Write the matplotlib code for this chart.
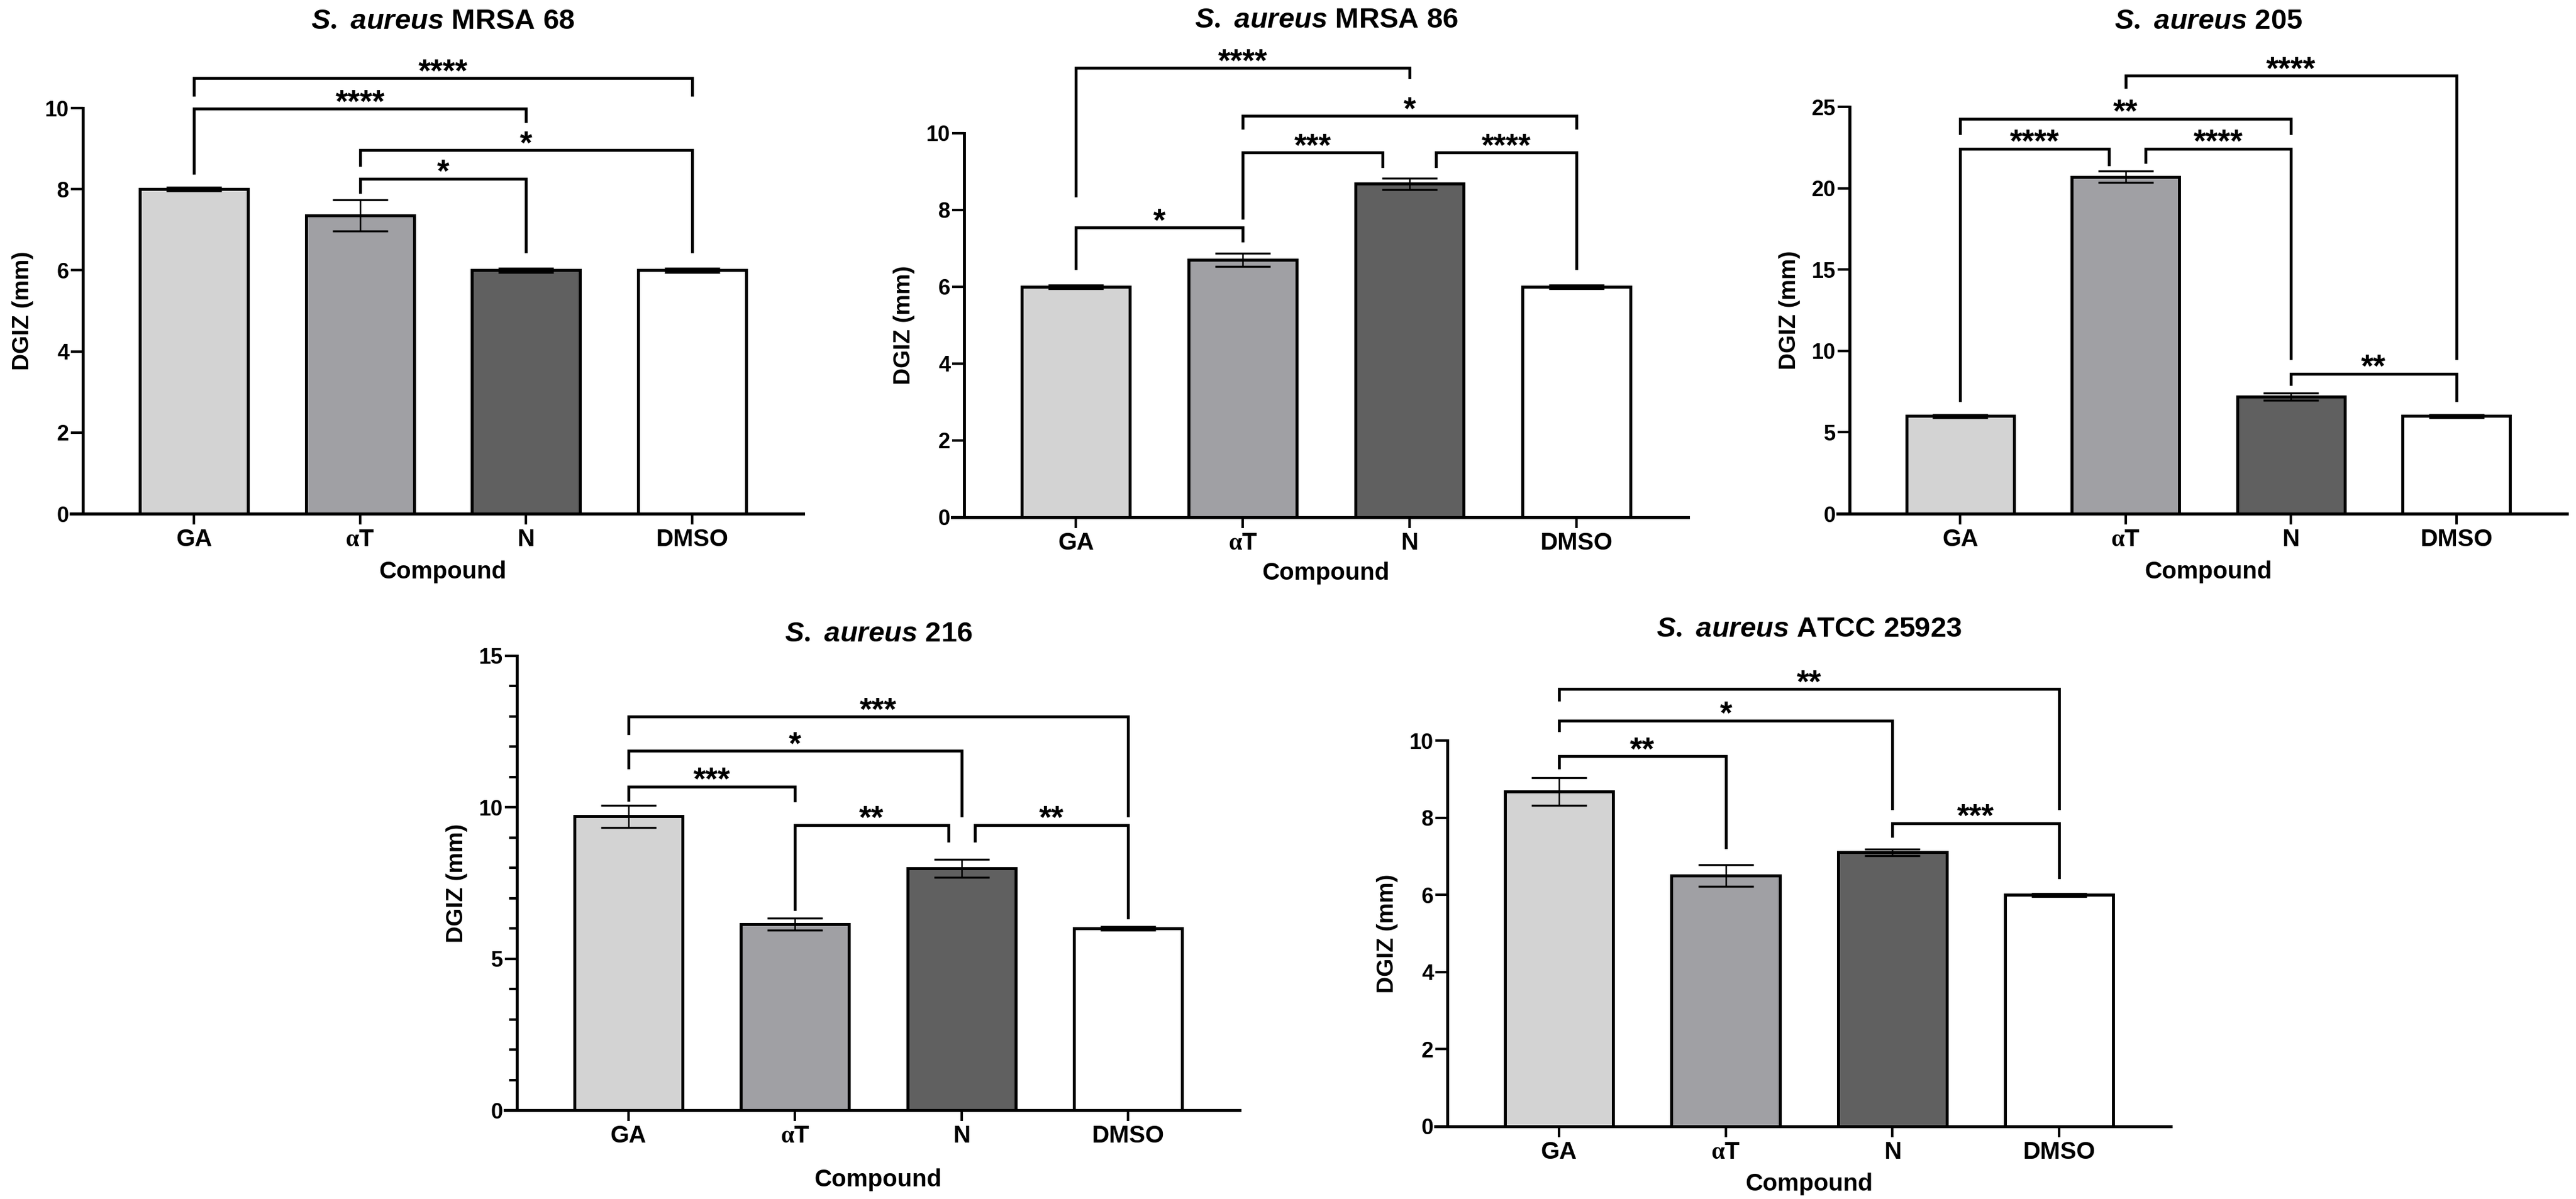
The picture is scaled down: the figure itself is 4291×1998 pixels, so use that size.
import numpy as np
import matplotlib
matplotlib.use('Agg')
import matplotlib.pyplot as plt
from matplotlib.ticker import MultipleLocator

plt.rcParams['font.family'] = ['Liberation Sans', 'DejaVu Sans']
plt.rcParams['font.weight'] = 'bold'
plt.rcParams['mathtext.fontset'] = 'custom'
plt.rcParams['mathtext.it'] = 'Liberation Sans:italic:bold'
plt.rcParams['mathtext.rm'] = 'Liberation Serif'
plt.rcParams['mathtext.bf'] = 'Liberation Sans:bold'

# ---- data ----
compounds = ['GA', r'$\mathrm{\alpha}$T', 'N', 'DMSO']
bar_colors = ['#d3d3d3', '#a0a0a4', '#606060', '#ffffff']

strains = ['MRSA 68', 'MRSA 86', '205', '216', 'ATCC 25923']

mrsa68_mean = [8.0, 7.35, 6.0, 6.0]
mrsa68_err = [0.04, 0.38, 0.05, 0.05]
mrsa86_mean = [6.0, 6.7, 8.68, 6.0]
mrsa86_err = [0.05, 0.17, 0.15, 0.05]
sa205_mean = [6.0, 20.7, 7.2, 6.0]
sa205_err = [0.1, 0.35, 0.22, 0.1]
sa216_mean = [9.7, 6.15, 7.98, 6.0]
sa216_err = [0.37, 0.2, 0.3, 0.06]
atcc_mean = [8.68, 6.5, 7.1, 6.0]
atcc_err = [0.36, 0.28, 0.09, 0.04]

# brackets: (left group, right group, label, bar height, left leg end, right leg end)
mrsa68_sig = [(0, 3, '****', 10.74, 10.33, 10.33),
              (0, 2, '****', 9.98, 8.4, 9.68),
              (1, 3, '*', 8.96, 8.6, 6.46),
              (1, 2, '*', 8.26, 7.93, 6.46)]
mrsa86_sig = [(0, 2, '****', 11.7, 8.38, 11.46),
              (1, 3, '*', 10.45, 10.14, 10.14),
              (1, 1.84, '***', 9.5, 7.8, 9.14),
              (2.16, 3, '****', 9.5, 9.14, 6.48),
              (0, 1, '*', 7.54, 6.48, 7.2)]
sa205_sig = [(1, 3, '****', 26.9, 26.2, 9.55),
             (0, 2, '**', 24.27, 23.37, 23.37),
             (0, 0.9, '****', 22.43, 6.97, 21.46),
             (1.12, 2, '****', 22.43, 21.6, 9.55),
             (2, 3, '**', 8.6, 7.98, 6.97)]
sa216_sig = [(0, 3, '***', 13.0, 12.45, 9.72),
             (0, 2, '*', 11.87, 11.31, 9.72),
             (0, 1, '***', 10.69, 10.25, 10.22),
             (1, 1.92, '**', 9.42, 6.63, 8.89),
             (2.08, 3, '**', 9.42, 8.89, 6.36)]
atcc_sig = [(0, 3, '**', 11.33, 11.06, 8.25),
            (0, 2, '*', 10.52, 10.26, 8.25),
            (0, 1, '**', 9.59, 9.3, 7.23),
            (2, 3, '***', 7.86, 7.52, 6.46)]

W, H = 4291, 1998
fig = plt.figure(figsize=(W / 100, H / 100), dpi=100)


def panel(box, strain, means, errs, ytop, ystep, sig, minor=None, xlab_off=96, title_y=36):
    left, right, base, top = box
    ax = fig.add_axes([left / W, 1 - base / H, (right - left) / W, (base - top) / H])
    x = np.arange(len(compounds))
    ax.bar(x, means, width=0.65, color=bar_colors, edgecolor='k', linewidth=3.6, zorder=2)
    ax.errorbar(x, means, yerr=errs, fmt='none', ecolor='k', elinewidth=1.8,
                capsize=33, capthick=2.4, zorder=3)
    ax.set_xlim(-0.67, 3.67)
    ax.set_ylim(0, ytop)
    ax.yaxis.set_major_locator(MultipleLocator(ystep))
    if minor:
        ax.yaxis.set_minor_locator(MultipleLocator(minor))
    ax.set_xticks(x)
    ax.set_xticklabels(compounds)
    for s in ['top', 'right']:
        ax.spines[s].set_visible(False)
    for s in ['left', 'bottom']:
        ax.spines[s].set_linewidth(3.6)
    hpx = base - top
    wpx = right - left
    # x axis line runs a tick-length past the y axis, as in the original
    ax.spines['bottom'].set_bounds(-0.67 - 20 / wpx * 4.34, 3.67)
    ax.tick_params(axis='x', which='major', length=13, width=3, pad=4, labelsize=29)
    ax.tick_params(axis='y', which='major', length=14.4, width=3, pad=2, labelsize=26)
    ax.tick_params(axis='y', which='minor', length=9.6, width=3)
    for t in ax.get_xticklabels() + ax.get_yticklabels():
        t.set_fontweight('bold')

    ax.set_xlabel('Compound', fontsize=29, fontweight='bold')
    ax.xaxis.set_label_coords(0.5, -xlab_off / hpx)
    ax.xaxis.label.set_va('center')
    ax.set_ylabel('DGIZ (mm)', fontsize=28, fontweight='bold')
    ax.yaxis.set_label_coords(-100 / wpx, 0.5)
    ax.yaxis.label.set_va('center')

    for (a, b, lab, yb, yl, yr) in sig:
        ax.plot([a, a, b, b], [yl, yb, yb, yr], color='k', lw=3.4, clip_on=False,
                solid_joinstyle='miter', zorder=4)
        ax.annotate(lab, xy=((a + b) / 2, yb), xytext=(0, -4), textcoords='offset points',
                    ha='center', va='baseline', fontsize=38, fontweight='bold',
                    annotation_clip=False)

    fig.text((left + right) / 2 / W, 1 - title_y / H,
             r'$\mathit{S.\ aureus}$ ' + strain, ha='center', va='center',
             fontsize=34, fontweight='bold')
    return ax


panel((138, 1338, 856, 180), strains[0], mrsa68_mean, mrsa68_err, 10, 2, mrsa68_sig,
      xlab_off=97, title_y=36)
panel((1606, 2812, 862, 222), strains[1], mrsa86_mean, mrsa86_err, 10, 2, mrsa86_sig,
      xlab_off=93, title_y=34)
panel((3081, 4276, 856, 178), strains[2], sa205_mean, sa205_err, 25, 5, sa205_sig,
      xlab_off=97, title_y=36)
panel((861, 2065, 1850, 1093), strains[3], sa216_mean, sa216_err, 15, 5, sa216_sig,
      minor=1, xlab_off=116, title_y=1057)
panel((2411, 3616, 1877, 1234), strains[4], atcc_mean, atcc_err, 10, 2, atcc_sig,
      xlab_off=96, title_y=1049)

fig.savefig('out.png', dpi=100)
